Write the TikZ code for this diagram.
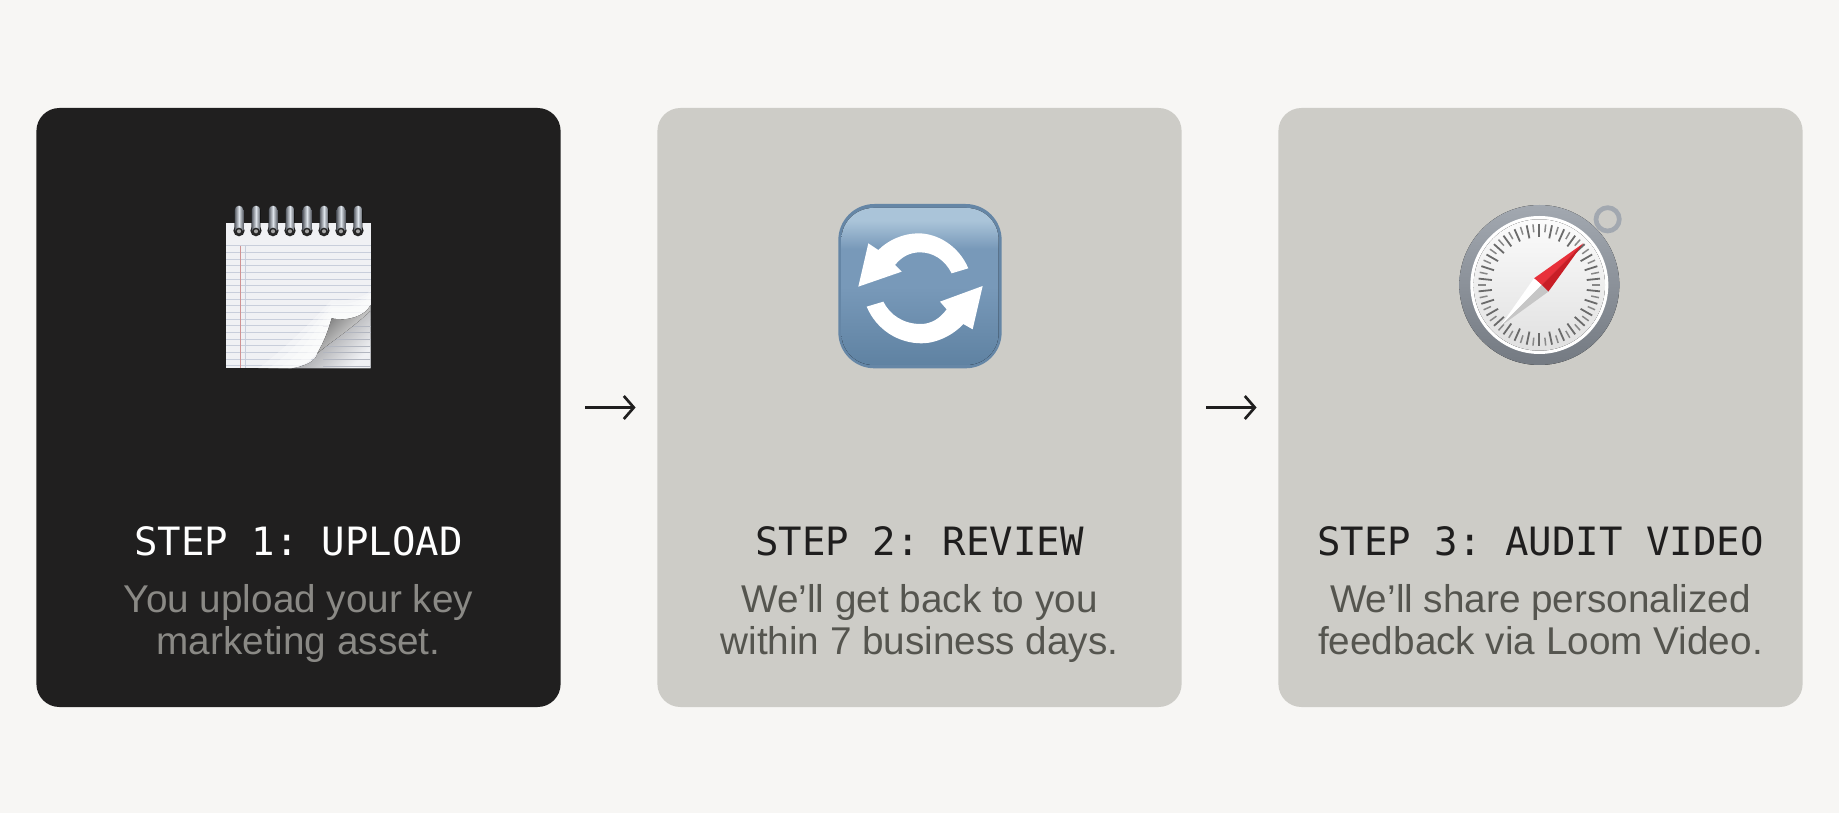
\documentclass[tikz,border=0pt]{standalone}
\usepackage{fontspec}
\setmainfont{Liberation Sans}
\setmonofont{DejaVu Sans Mono}
\usetikzlibrary{arrows.meta}
\definecolor{pagebg}{HTML}{F7F6F4}
\definecolor{carddark}{HTML}{201F1F}
\definecolor{cardlight}{HTML}{CDCCC7}
\definecolor{inkdark}{HTML}{1F1E1E}
\definecolor{bodylight}{HTML}{55554F}
\definecolor{bodydark}{HTML}{8A8985}
\definecolor{padpaper}{HTML}{F0F1F4}
\definecolor{padline}{HTML}{C8CEDB}
\definecolor{padshade}{HTML}{77787B}
\definecolor{ringedge}{HTML}{5A5E66}
\definecolor{ringshine}{HTML}{DDE3EA}
\definecolor{syncedge}{HTML}{6586A6}
\definecolor{synctop}{HTML}{AAC4D9}
\definecolor{syncmid}{HTML}{7899B9}
\definecolor{syncbottom}{HTML}{5F82A2}
\definecolor{bezeltop}{HTML}{A2A8B0}
\definecolor{bezelbottom}{HTML}{747A82}
\definecolor{dialtick}{HTML}{6A6A6A}
\definecolor{needlered}{HTML}{E8303A}
\definecolor{needledark}{HTML}{C81E26}
\pgfdeclareverticalshading{syncface}{100bp}{color(0bp)=(syncbottom); color(25bp)=(syncbottom); color(50bp)=(syncmid); color(62bp)=(syncmid); color(71bp)=(synctop); color(75bp)=(synctop); color(100bp)=(synctop)}
\tikzset{
    stepcard/.style={rectangle, rounded corners=23pt, minimum width=524.2pt, minimum height=599pt, inner sep=0pt, outer sep=0pt},
    steptitle/.style={font=\ttfamily\fontsize{39}{44}\selectfont, inner sep=0pt},
    stepbody/.style={font=\fontsize{38.7}{41.6}\selectfont, align=center, inner sep=0pt, anchor=base},
    steparrow/.style={line width=2.7pt, inkdark, -{Straight Barb[length=10pt,width=23pt]}, shorten <=24.4pt, shorten >=21.8pt},
}
\begin{document}
\begin{tikzpicture}[x=1pt,y=-1pt]
    \fill[pagebg] (0,0) rectangle (1839,813);
    \node[stepcard, fill=carddark] (upload) at (298.5,407.5) {};
    \node[stepcard, fill=cardlight] (review) at (919.5,407.5) {};
    \node[stepcard, fill=cardlight] (audit) at (1540.5,407.5) {};
    \draw[steparrow] (upload) -- (review);
    \draw[steparrow] (review) -- (audit);
    \node[steptitle, text=white] (uploadtitle) at (298.5,541) {STEP 1: UPLOAD};
    \node[steptitle, text=inkdark] (reviewtitle) at (919.5,541) {STEP 2: REVIEW};
    \node[steptitle, text=inkdark] (audittitle) at (1540.5,541) {STEP 3: AUDIT VIDEO};
    \node[stepbody, text=bodydark] (uploadbody) at (298.5,654) {You upload your key\\marketing asset.};
    \node[stepbody, text=bodylight] (reviewbody) at (919.5,654) {We’ll get back to you\\within 7 business days.};
    \node[stepbody, text=bodylight] (auditbody) at (1540.5,654) {We’ll share personalized\\feedback via Loom Video.};
    \begin{scope}[shift={(200,190)},x=0.3333pt,y=-0.3333pt]
        \fill[padpaper] (78,100) rectangle (512,535);
        \foreach \liney in {168,188,...,528} {
            \draw[line width=1pt, padline] (78,\liney) -- (512,\liney);
        }
        \draw[line width=0.9pt, red!40!gray!60] (122,168) -- (122,535);
        \draw[line width=0.7pt, padline] (135,168) -- (135,535);
        \fill[top color=padshade, bottom color=padpaper, shading angle=45] (270,535) .. controls (320,530) and (350,510) .. (352,490) -- (512,362) -- (512,535) -- cycle;
        \foreach \liney in {408,428,...,528} {
            \draw[line width=0.8pt, padline!70!gray] (370,\liney) -- (512,\liney);
        }
        \foreach \grow in {0,30,60,90} {
            \fill[white, opacity=0.3] ({175+\grow},535) .. controls ({250+\grow},{480+\grow*0.2}) and ({330+\grow*0.3},{400+\grow*0.2}) .. (395,{330+\grow*0.4}) .. controls (450,{335+\grow*0.4}) and (500,{320+\grow*0.2}) .. (512,{300+\grow*0.3}) -- (512,345) .. controls (495,380) and (440,395) .. (395,385) .. controls (375,470) and (340,528) .. (270,535) -- cycle;
        }
        \fill[top color=gray!85!black, bottom color=white, shading angle=45] (395,385) .. controls (440,395) and (495,380) .. (512,345) -- (512,362) .. controls (450,420) and (400,450) .. (352,490) .. controls (375,450) and (385,420) .. (395,385) -- cycle;
        \foreach \ringx in {117,168,...,474} {
            \fill[gray!30!black] (\ringx,122) circle[radius=17];
            \fill[left color=ringedge, right color=ringedge, middle color=ringshine] (\ringx-13,122) -- (\ringx-13,60) arc[start angle=180, end angle=360, radius=13] -- (\ringx+13,122) -- cycle;
            \fill[gray!30!black] (\ringx,124) circle[radius=11];
            \fill[gray!70] (\ringx,124) circle[radius=6];
        }
    \end{scope}
    \begin{scope}[shift={(820,190)},x=0.3333pt,y=-0.3333pt]
        \fill[syncedge, rounded corners=36pt] (55,42) rectangle (545,535);
        \fill[shading=syncface, rounded corners=32pt] (64,54) rectangle (536,525);
        \fill[white] (445,235) .. controls (415,165) and (350,130) .. (295,130) .. controls (250,130) and (205,150) .. (175,180) -- (145,160) -- (115,290) -- (245,245) -- (225,225) .. controls (245,200) and (270,187) .. (300,187) .. controls (340,187) and (375,210) .. (395,250) -- cycle;
        \fill[white] (140,350) .. controls (170,420) and (235,460) .. (305,460) .. controls (350,460) and (400,435) .. (430,402) -- (458,418) -- (488,288) -- (360,335) -- (380,358) .. controls (360,385) and (335,402) .. (302,402) .. controls (250,402) and (210,375) .. (190,335) -- cycle;
    \end{scope}
    \begin{scope}[shift={(1440,190)},x=0.3333pt,y=-0.3333pt]
        \fill[bezeltop!80!black] (455,105) -- (485,135) -- (455,160) -- (430,130) -- cycle;
        \draw[line width=4.7pt, bezeltop] (503,88) circle[radius=35];
        \fill[top color=bezeltop, bottom color=bezelbottom] (298,285) circle[radius=240];
        \fill[white] (298,285) circle[radius=207];
        \fill[top color=gray!3, bottom color=gray!24] (298,285) circle[radius=197];
        \foreach \tickangle in {0,12,...,348} {
            \draw[line width=1.8pt, dialtick, rotate around={\tickangle:(298,285)}] (298,102) -- (298,142);
        }
        \foreach \tickangle in {6,18,...,354} {
            \draw[line width=1.5pt, dialtick!80!white, rotate around={\tickangle:(298,285)}] (298,102) -- (298,126);
        }
        \fill[needlered] (430,160) -- (282,265) -- (305,285) -- cycle;
        \fill[needledark] (430,160) -- (305,285) -- (325,305) -- cycle;
        \fill[white] (180,410) -- (282,265) -- (305,285) -- cycle;
        \fill[gray!45] (180,410) -- (305,285) -- (325,305) -- cycle;
    \end{scope}
\end{tikzpicture}
\end{document}
